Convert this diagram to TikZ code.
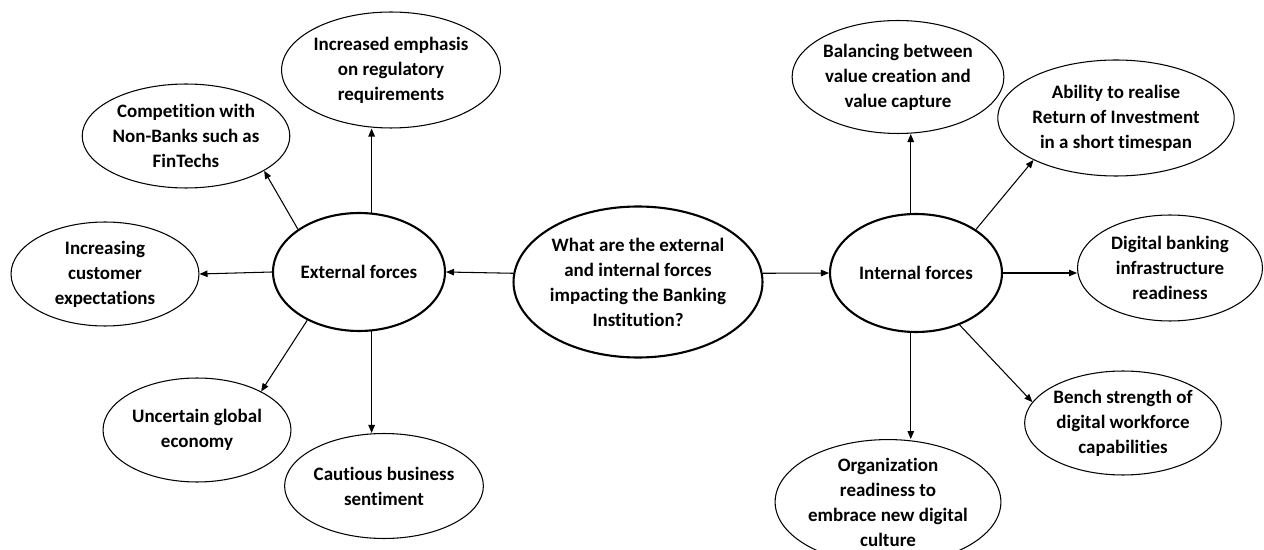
\documentclass[tikz,border=0pt]{standalone}
\usepackage{fontspec}
\setmainfont{Carlito}[Ligatures=NoCommon]
\usetikzlibrary{shapes.geometric,arrows.meta}

\begin{document}
\begin{tikzpicture}[x=0.02cm,y=-0.02cm,
    force/.style={ellipse,draw,line width=0.6pt,inner sep=0pt,align=center,
      font=\fontsize{10.8}{14.2}\selectfont\bfseries},
    hub/.style={force,line width=1.2pt},
    link/.style={-{Triangle[length=1.6mm,width=1.3mm]},line width=0.6pt}]
    \useasboundingbox (0,0) rectangle (1264,550);

    % draw the three main ellipses
    \node[hub,minimum width=4.8cm,minimum height=3.02cm] (quest) at (638,282)
      {What are the external\\and internal forces\\impacting the Banking\\Institution?};
    \node[hub,minimum width=3.44cm,minimum height=2.36cm] (ext) at (359,272) {External forces};
    \node[hub,minimum width=3.44cm,minimum height=2.36cm] (int) at (916,273) {Internal forces};

    % draw external forces
    \node[force,minimum width=4.16cm,minimum height=2.32cm] (reg) at (391,70)
      {Increased emphasis\\on regulatory\\requirements};
    \node[force,minimum width=3.78cm,minimum height=2.08cm] (comp) at (186,136)
      {Competition with\\Non-Banks such as\\FinTechs};
    \node[force,minimum width=3.76cm,minimum height=2.08cm] (cust) at (105,274)
      {Increasing\\customer\\expectations};
    \node[force,minimum width=3.76cm,minimum height=2.08cm] (econ) at (197,430)
      {Uncertain global\\economy};
    \node[force,minimum width=3.72cm,minimum height=2.1cm] (sent) at (384,486)
      {Cautious business\\sentiment};

    % draw internal forces
    \node[force,minimum width=3.94cm,minimum height=2.26cm] (bal) at (898,77)
      {Balancing between\\value creation and\\value capture};
    \node[force,minimum width=4.48cm,minimum height=2.32cm] (roi) at (1116,118)
      {Ability to realise\\Return of Investment\\in a short timespan};
    \node[force,minimum width=3.7cm,minimum height=2.12cm] (infra) at (1170,268)
      {Digital banking\\infrastructure\\readiness};
    \node[force,minimum width=3.76cm,minimum height=2.08cm] (bench) at (1123,423)
      {Bench strength of\\digital workforce\\capabilities};
    \node[force,minimum width=4.4cm,minimum height=2.48cm] (org) at (888,502)
      {Organization\\readiness to\\embrace new digital\\culture};

    % draw arrows
    \draw[link] (quest.176) -- (ext.east);
    \draw[link] (quest.4) -- (int.west);

    \draw[link] (ext.78) -- (ext.78 |- reg.south);
    \draw[link] (ext.145) -- (comp.-24);
    \draw[link] (ext.west) -- (cust.east);
    \draw[link] (ext.223) -- (econ.31);
    \draw[link] (ext.-78) -- (ext.-78 |- sent.north);

    \draw[link] (int.95) -- (int.95 |- bal.south);
    \draw[link] (int.36) -- (roi.207);
    \draw[link] (int.east) -- (int.east -| infra.west);
    \draw[link] (int.-50) -- (bench.167);
    \draw[link] (int.-95) -- (int.-95 |- org.north);
\end{tikzpicture}
\end{document}
